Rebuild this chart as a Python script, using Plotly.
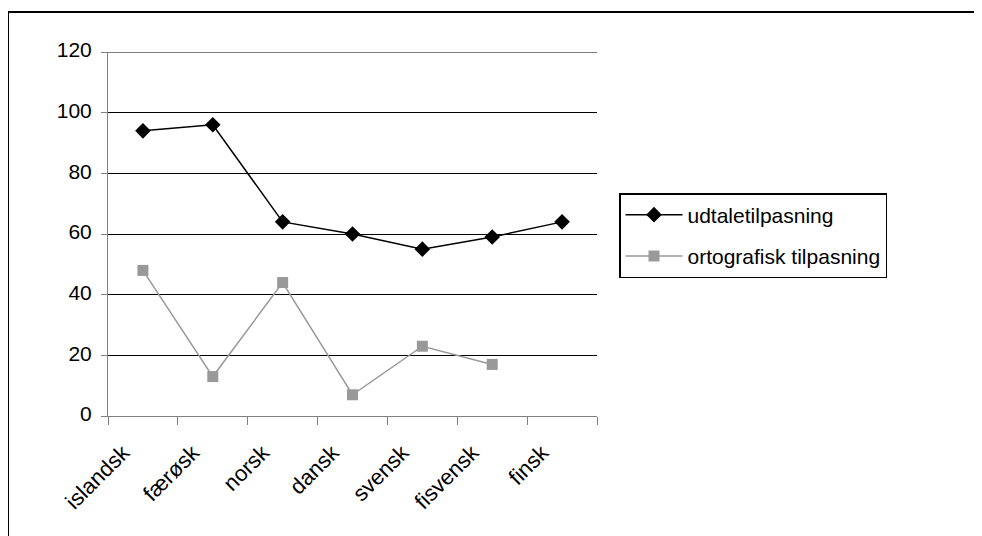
import plotly.graph_objects as go

categories = ["islandsk", "færøsk", "norsk", "dansk", "svensk", "fisvensk", "finsk"]
udtale = [94, 96, 64, 60, 55, 59, 64]
ortografisk = [48, 13, 44, 7, 23, 17, None]
y_ticks = [0, 20, 40, 60, 80, 100, 120]

# the page body has an 8px margin, so figure coordinates = screen - 8
OFF = 8
W, H = 974, 528
L, T = 108 - OFF, 52 - OFF
R = W - (597 - OFF)
B = H - (416 - OFF)
pw, ph = W - L - R, H - T - B

def px(x):
    return (x - OFF - L) / pw

def py(y):
    return (H - B - (y - OFF)) / ph

FONT = "Liberation Sans, Arial, sans-serif"

fig = go.Figure()
fig.add_trace(go.Scatter(
    x=categories, y=udtale, name="udtaletilpasning", mode="lines+markers",
    legendgroup="a",
    line=dict(color="#000000", width=1.5),
    marker=dict(symbol="diamond", size=12, color="#000000"),
))
fig.add_trace(go.Scatter(
    x=categories, y=ortografisk, name="ortografisk tilpasning", mode="lines+markers",
    legendgroup="b",
    line=dict(color="#999999", width=1.5),
    marker=dict(symbol="square", size=11, color="#999999"),
    connectgaps=False,
))

fig.update_layout(
    width=W, height=H,
    margin=dict(l=L, r=R, t=T, b=B),
    paper_bgcolor="white", plot_bgcolor="white",
    font=dict(family=FONT, size=21, color="#000000"),
    showlegend=True,
    legend=dict(
        x=px(619), y=py(193), xanchor="left", yanchor="top",
        bordercolor="#000000", borderwidth=1.5, bgcolor="white",
        font=dict(size=21), traceorder="grouped", tracegroupgap=11,
        itemwidth=57,
    ),
    xaxis=dict(
        type="category", range=[-0.5, 6.5], tickson="boundaries",
        ticks="outside", ticklen=8, tickcolor="#808080", tickwidth=1,
        showline=True, linecolor="#808080", linewidth=1,
        showgrid=False, tickangle=-45, tickfont=dict(size=22),
        ticklabelshift=-20, ticklabelstandoff=14, fixedrange=True,
    ),
    yaxis=dict(
        range=[0, 120], tickvals=y_ticks, ticks="outside", ticklen=6,
        tickcolor="#808080", showline=True, linecolor="#808080", linewidth=1,
        showgrid=True, gridcolor="#000000", gridwidth=1, zeroline=False,
        tickfont=dict(size=21), ticklabelstandoff=5, ticklabelshift=-2,
        fixedrange=True,
    ),
    shapes=[
        dict(type="line", xref="paper", yref="y", x0=0, x1=1, y0=120, y1=120,
             line=dict(color="#000000", width=1)),
        dict(type="line", xref="paper", yref="paper", x0=px(8), x1=px(990), y0=py(12), y1=py(12),
             line=dict(color="#000000", width=2)),
        dict(type="line", xref="paper", yref="paper", x0=px(8.5), x1=px(8.5), y0=py(12), y1=py(545),
             line=dict(color="#000000", width=1)),
    ],
)

fig.write_html("out.html")
